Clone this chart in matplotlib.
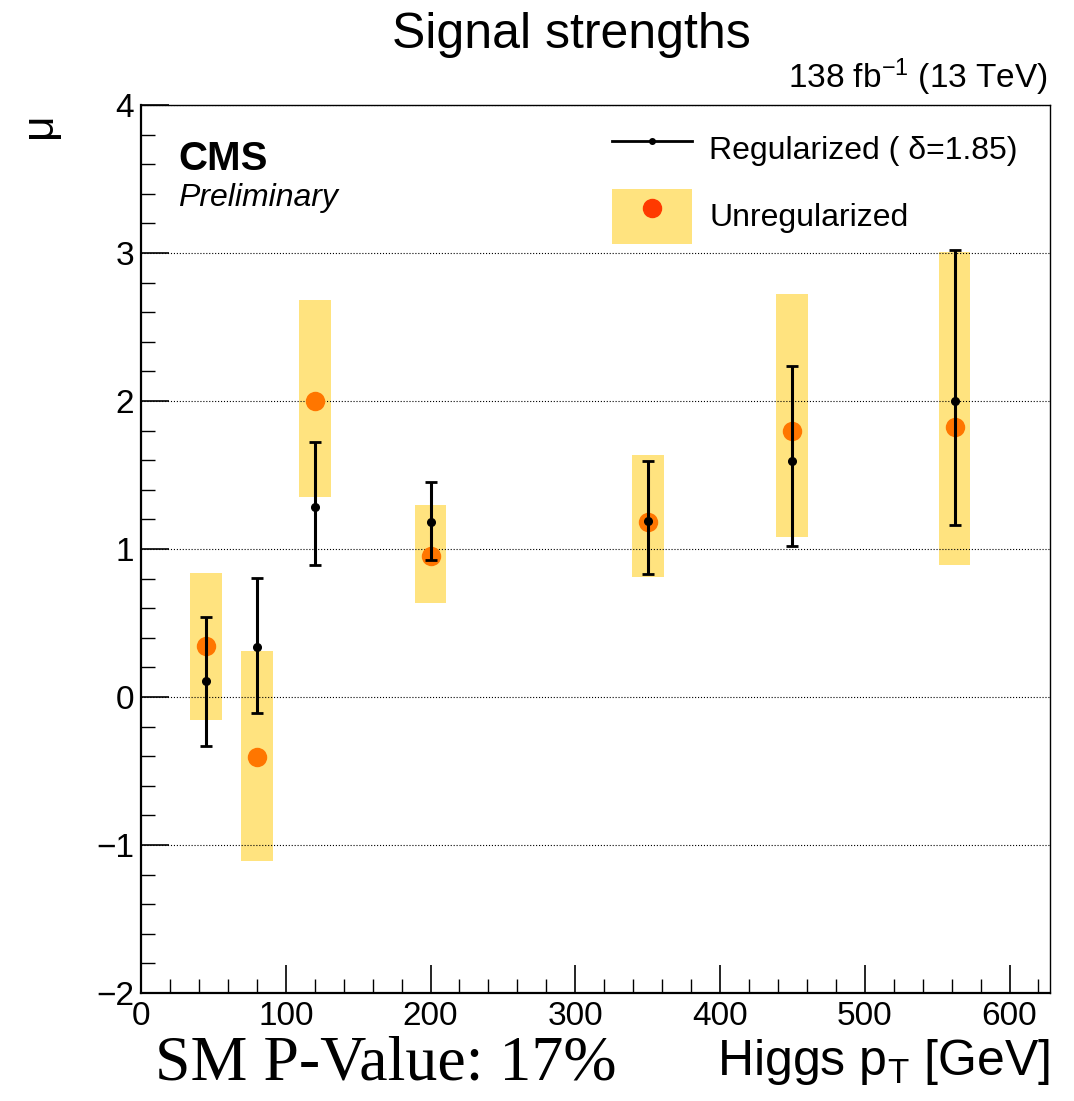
import numpy as np
import matplotlib.pyplot as plt
from matplotlib.patches import Patch
from matplotlib.lines import Line2D

plt.rcParams['font.family'] = ['Liberation Sans', 'DejaVu Sans']
plt.rcParams['mathtext.fontset'] = 'custom'
plt.rcParams['mathtext.rm'] = 'Liberation Sans'
plt.rcParams['mathtext.it'] = 'Liberation Sans:italic'

# bin centres in Higgs pT [GeV]
pt = np.array([45, 80, 120, 200, 350, 450, 562])
box_width = 22

# unregularized fit: central value and band
mu_unreg = np.array([0.345, -0.405, 2.00, 0.955, 1.18, 1.80, 1.825])
unreg_lo = np.array([-0.152, -1.106, 1.353, 0.636, 0.813, 1.083, 0.892])
unreg_hi = np.array([0.839, 0.308, 2.68, 1.295, 1.634, 2.72, 3.01])

# regularized fit (delta = 1.85)
mu_reg = np.array([0.106, 0.337, 1.285, 1.184, 1.187, 1.593, 2.00])
reg_lo = np.array([-0.33, -0.108, 0.892, 0.926, 0.829, 1.02, 1.16])
reg_hi = np.array([0.54, 0.802, 1.72, 1.454, 1.598, 2.236, 3.02])

yellow = '#ffe37f'
orange = '#ff7600'

fig = plt.figure(figsize=(10.74, 11.01), dpi=100)
ax = fig.add_axes([0.1313, 0.0981, 0.8464, 0.8065])

ax.bar(pt, unreg_hi - unreg_lo, bottom=unreg_lo, width=box_width,
       color=yellow, zorder=1)
ax.plot(pt, mu_unreg, 'o', color=orange, ms=14, mec='none', zorder=3)
ax.errorbar(pt, mu_reg, yerr=[mu_reg - reg_lo, reg_hi - mu_reg], fmt='o',
            color='k', ms=5.5, lw=2.2, capsize=4, capthick=2.0, zorder=4)

ax.set_xlim(0, 628)
ax.set_ylim(-2, 4)
ax.set_xticks(np.arange(0, 601, 100))
ax.set_xticks(np.arange(0, 628, 20), minor=True)
ax.set_yticks(np.arange(-2, 4.1, 1))
ax.set_yticks(np.arange(-2, 4.01, 0.2), minor=True)
ax.set_yticklabels(['\u22122', '\u22121', '0', '1', '2', '3', '4'])
ax.tick_params(which='both', direction='in', top=False, right=False, labelsize=24)
ax.tick_params(which='major', length=20, width=1.2)
ax.tick_params(which='minor', length=10, width=1.0)
ax.tick_params(axis='x', pad=6)
ax.tick_params(axis='y', pad=5)
ax.yaxis.grid(True, which='major', ls=':', color='k', lw=0.8)
ax.set_axisbelow(False)
for side in ['left', 'bottom']:
    ax.spines[side].set_linewidth(1.6)
for side in ['top', 'right']:
    ax.spines[side].set_linewidth(1.0)

# legend
h_reg = Line2D([], [], color='k', lw=2.0, marker='o', ms=4)
h_unreg = (Patch(color=yellow, lw=0),
           Line2D([], [], color='#ff3a00', marker='o', ls='none', ms=13))
leg = ax.legend([h_reg, h_unreg], ['Regularized ( \u03b4=1.85)', 'Unregularized'],
                loc='upper left', bbox_to_anchor=(0.518, 0.981), frameon=False,
                fontsize=23, handlelength=2.5, handleheight=2.25,
                handletextpad=0.55, labelspacing=0.4, borderpad=0,
                borderaxespad=0)

ax.text(0.0407, 0.927, 'CMS', transform=ax.transAxes, fontsize=29,
        fontweight='bold', va='baseline')
ax.text(0.0407, 0.886, 'Preliminary', transform=ax.transAxes, fontsize=23,
        style='italic', va='baseline')

fig.text(571 / 1074, 1 - 48 / 1101, 'Signal strengths', fontsize=36,
         ha='center', va='baseline')
fig.text(1048 / 1074, 1 - 88 / 1101, '138 fb$^{-1}$ (13 TeV)', fontsize=24,
         ha='right', va='baseline')
fig.text(40 / 1074, 1 - 125 / 1101, '\u03bc', fontsize=32, rotation=90,
         ha='center', va='center')
fig.text(1050 / 1074, 1 - 1075 / 1101, 'Higgs p$_{\\mathregular{T}}$ [GeV]',
         fontsize=36, ha='right', va='baseline')
fig.text(155 / 1074, 1 - 1080 / 1101, 'SM P-Value: 17%', fontsize=46,
         family='Liberation Serif', ha='left', va='baseline')

plt.savefig('out.png', dpi=100)
